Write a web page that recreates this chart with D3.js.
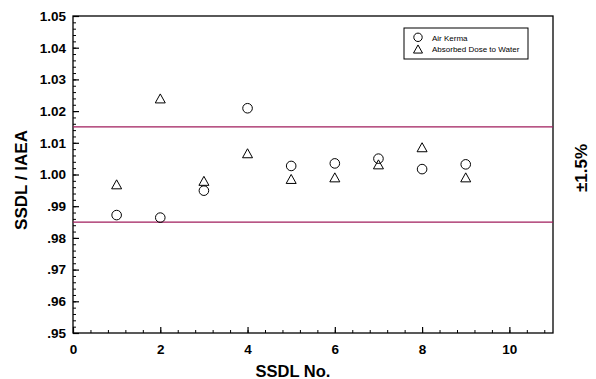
<!DOCTYPE html>
<html>
<head>
<meta charset="utf-8">
<script src="https://cdn.jsdelivr.net/npm/d3@7"></script>
<style>
  body { margin: 0; background: #fff; }
  svg { font-family: "Liberation Sans", Arial, sans-serif; }
</style>
</head>
<body>
<div id="chart"></div>
<script>
// SSDL numbers and ratios
const ssdl = [1, 2, 3, 4, 5, 6, 7, 8, 9];
const airKerma = [0.9872, 0.9864, 0.9949, 1.0209, 1.0027, 1.0035, 1.0050, 1.0017, 1.0032];
const doseWater = [0.9969, 1.0240, 0.9980, 1.0067, 0.9986, 0.9991, 1.0032, 1.0086, 0.9991];
const limits = [1.015, 0.985];
const xTicks = [0, 2, 4, 6, 8, 10];
const yTicks = [0.95, 0.96, 0.97, 0.98, 0.99, 1.00, 1.01, 1.02, 1.03, 1.04, 1.05];

const width = 596, height = 379;
const margin = { top: 16, right: 43, bottom: 46, left: 73 };

const svg = d3.select('#chart').append('svg')
  .attr('width', width)
  .attr('height', height);

const x = d3.scaleLinear()
  .domain([0, 11])
  .range([margin.left, width - margin.right]);

const y = d3.scaleLinear()
  .domain([0.95, 1.05])
  .range([height - margin.bottom, margin.top]);

// minor ticks
const xMinor = d3.range(0, 11.01, 0.4).filter(v => v <= 11);
const yMinor = d3.range(0, 51).map(i => 0.95 + i * 0.002);

svg.append('g')
  .attr('transform', `translate(0,${y(0.95)})`)
  .call(d3.axisBottom(x).tickValues(xMinor).tickFormat('').tickSize(-3).tickSizeOuter(0))
  .call(g => g.select('.domain').remove());

svg.append('g')
  .attr('transform', `translate(${x(0)},0)`)
  .call(d3.axisLeft(y).tickValues(yMinor).tickFormat('').tickSize(-3).tickSizeOuter(0))
  .call(g => g.select('.domain').remove());

// major ticks
const xAxis = svg.append('g')
  .attr('transform', `translate(0,${y(0.95)})`)
  .call(d3.axisBottom(x).tickValues(xTicks).tickSize(-6).tickSizeOuter(0).tickPadding(11));

const yFmt = v => {
  const s = v.toFixed(2);
  return s.startsWith('0') ? s.slice(1) : s;
};
const yAxis = svg.append('g')
  .attr('transform', `translate(${x(0)},0)`)
  .call(d3.axisLeft(y).tickValues(yTicks).tickFormat(yFmt).tickSize(-6).tickSizeOuter(0).tickPadding(7));

[xAxis, yAxis].forEach(g => {
  g.selectAll('.domain').remove();
  g.selectAll('line').attr('stroke', '#000').attr('stroke-width', 1.2);
  g.selectAll('text')
    .style('font-size', '13.5px')
    .style('font-weight', 'bold')
    .attr('fill', '#000');
});

// frame
svg.append('rect')
  .attr('x', x(0))
  .attr('y', y(1.05))
  .attr('width', x(11) - x(0))
  .attr('height', y(0.95) - y(1.05))
  .attr('fill', 'none')
  .attr('stroke', '#000')
  .attr('stroke-width', 1.3);

// ±1.5% limit lines
svg.selectAll('.limit')
  .data(limits)
  .enter()
  .append('line')
  .attr('class', 'limit')
  .attr('x1', x(0))
  .attr('x2', x(11))
  .attr('y1', d => y(d))
  .attr('y2', d => y(d))
  .attr('stroke', '#a01c5c')
  .attr('stroke-width', 1.2);

// markers
const tri = (cx, cy, s) => {
  const h = s * 0.9;
  return `M${cx - s / 2},${cy + h / 2}L${cx + s / 2},${cy + h / 2}L${cx},${cy - h / 2}Z`;
};

svg.selectAll('.ak')
  .data(ssdl)
  .enter()
  .append('circle')
  .attr('class', 'ak')
  .attr('cx', d => x(d))
  .attr('cy', (d, i) => y(airKerma[i]))
  .attr('r', 4.8)
  .attr('fill', 'none')
  .attr('stroke', '#000')
  .attr('stroke-width', 1);

svg.selectAll('.dw')
  .data(ssdl)
  .enter()
  .append('path')
  .attr('class', 'dw')
  .attr('d', (d, i) => tri(x(d), y(doseWater[i]), 10))
  .attr('fill', 'none')
  .attr('stroke', '#000')
  .attr('stroke-width', 1);

// legend
const legend = svg.append('g').attr('transform', 'translate(404,28)');
legend.append('rect')
  .attr('width', 124)
  .attr('height', 31)
  .attr('fill', '#fff')
  .attr('stroke', '#000')
  .attr('stroke-width', 1);
legend.append('circle')
  .attr('cx', 14).attr('cy', 9.3).attr('r', 4.2)
  .attr('fill', 'none').attr('stroke', '#000');
legend.append('path')
  .attr('d', tri(14, 21, 9))
  .attr('fill', 'none').attr('stroke', '#000');
[['Air Kerma', 12.7], ['Absorbed Dose to Water', 24.3]].forEach(([t, ty]) => {
  legend.append('text')
    .attr('x', 28)
    .attr('y', ty)
    .style('font-size', '8px')
    .text(t);
});

// axis titles
svg.append('text')
  .attr('x', 293)
  .attr('y', 377)
  .attr('text-anchor', 'middle')
  .style('font-size', '16.5px')
  .style('font-weight', 'bold')
  .text('SSDL No.');

svg.append('text')
  .attr('transform', 'translate(27,180) rotate(-90)')
  .attr('text-anchor', 'middle')
  .style('font-size', '17px')
  .style('font-weight', 'bold')
  .text('SSDL / IAEA');

svg.append('text')
  .attr('transform', 'translate(587,168) rotate(-90)')
  .attr('text-anchor', 'middle')
  .style('font-size', '17px')
  .style('font-weight', 'bold')
  .text('±1.5%');
</script>
</body>
</html>
